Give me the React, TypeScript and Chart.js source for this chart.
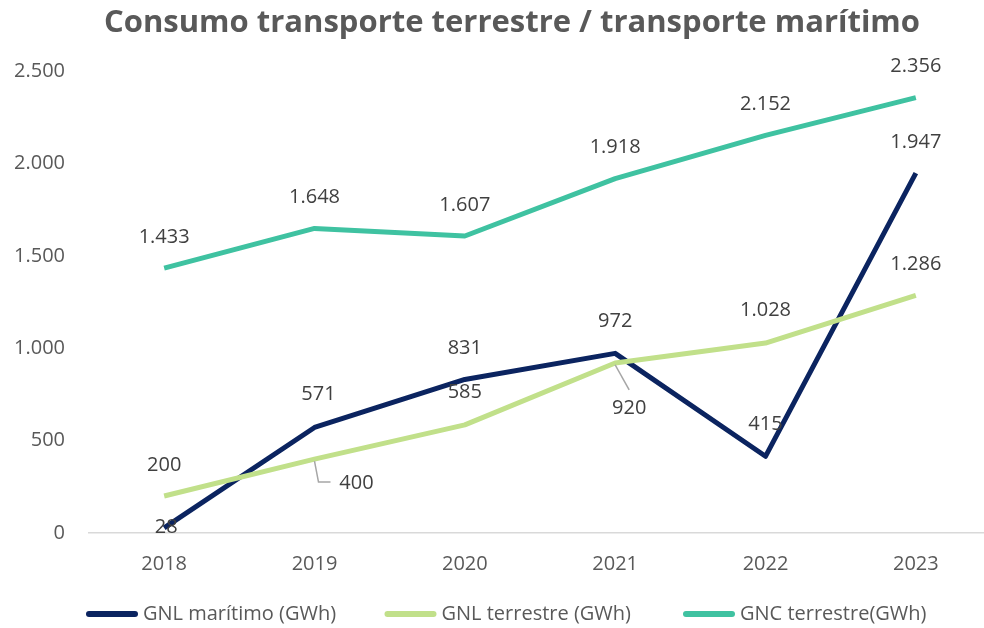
import React, { useEffect, useRef } from "react";
import { Chart, registerables } from "chart.js";

Chart.register(...registerables);

const years = ["2018", "2019", "2020", "2021", "2022", "2023"];
const gnlMaritimo = [28, 571, 831, 972, 415, 1947];
const gnlTerrestre = [200, 400, 585, 920, 1028, 1286];
const gncTerrestre = [1433, 1648, 1607, 1918, 2152, 2356];
const seriesNames = ["GNL marítimo (GWh)", "GNL terrestre (GWh)", "GNC terrestre(GWh)"];
const seriesColors = ["#0B2460", "#C1E08A", "#3FC2A1"];
const titleText = "Consumo transporte terrestre / transporte marítimo";

// label placement (dx, dy from point to label centre) and optional leader lines
const labelOffsets: number[][][] = [
  [[2, -1], [4, -33], [0, -31], [0, -32], [0, -32], [0, -31]],
  [[0, -31], [42, 24], [0, -33], [14, 45], [0, -33], [0, -31]],
  [[0, -31], [0, -31], [0, -31], [0, -31], [0, -31], [0, -31]],
];
const leaders: Record<string, number[][]> = {
  "1-1": [[0, 2], [4, 23], [16, 23]],
  "1-3": [[0, 2], [14, 27]],
};

const FONT = "'Open Sans', sans-serif";
const fmt = (v: number) => String(v).replace(/\B(?=(\d{3})+(?!\d))/g, ".");

const labelPlugin = {
  id: "valueLabels",
  afterDatasetsDraw(chart: any) {
    const ctx = chart.ctx;
    ctx.save();
    chart.data.datasets.forEach((ds: any, di: number) => {
      const meta = chart.getDatasetMeta(di);
      meta.data.forEach((pt: any, i: number) => {
        const lead = leaders[di + "-" + i];
        if (lead) {
          ctx.strokeStyle = "#A6A6A6";
          ctx.lineWidth = 1.5;
          ctx.beginPath();
          lead.forEach((p, k) => {
            if (k === 0) ctx.moveTo(pt.x + p[0], pt.y + p[1]);
            else ctx.lineTo(pt.x + p[0], pt.y + p[1]);
          });
          ctx.stroke();
        }
      });
    });
    ctx.font = "20px " + FONT;
    ctx.fillStyle = "#404040";
    ctx.textAlign = "center";
    ctx.textBaseline = "middle";
    chart.data.datasets.forEach((ds: any, di: number) => {
      const meta = chart.getDatasetMeta(di);
      meta.data.forEach((pt: any, i: number) => {
        const off = labelOffsets[di][i];
        ctx.fillText(fmt(ds.data[i]), pt.x + off[0], pt.y + off[1]);
      });
    });
    ctx.restore();
  },
};

const legendPlugin = {
  id: "customLegend",
  afterDraw(chart: any) {
    const ctx = chart.ctx;
    ctx.save();
    // title
    ctx.font = "bold 31px " + FONT;
    ctx.fillStyle = "#595959";
    ctx.textAlign = "center";
    ctx.textBaseline = "alphabetic";
    ctx.fillText(titleText, 512, 32);
    // legend
    ctx.font = "20px " + FONT;
    const lineLen = 52;
    const gapText = 5;
    const slot = 298.5;
    const startX = 86;
    const y = 614;
    chart.data.datasets.forEach((ds: any, i: number) => {
      const x = startX + i * slot;
      ctx.strokeStyle = ds.borderColor;
      ctx.lineWidth = 6;
      ctx.lineCap = "round";
      ctx.beginPath();
      ctx.moveTo(x + 3, y);
      ctx.lineTo(x + lineLen - 3, y);
      ctx.stroke();
      ctx.fillStyle = "#595959";
      ctx.textAlign = "left";
      ctx.textBaseline = "middle";
      ctx.fillText(ds.label, x + lineLen + gapText, y);
    });
    ctx.restore();
  },
};

export default function App() {
  const ref = useRef<HTMLCanvasElement | null>(null);
  useEffect(() => {
    if (!ref.current) return;
    const values = [gnlMaritimo, gnlTerrestre, gncTerrestre];
    const orders = [3, 2, 1];
    const chart = new Chart(ref.current, {
      type: "line",
      data: {
        labels: years,
        datasets: values.map((d, i) => ({
          label: seriesNames[i],
          data: d,
          borderColor: seriesColors[i],
          backgroundColor: seriesColors[i],
          borderWidth: 5,
          pointRadius: 0,
          tension: 0,
          borderJoinStyle: "round" as const,
          order: orders[i],
        })),
      },
      options: {
        responsive: false,
        animation: false,
        events: [],
        layout: { padding: { left: 0, right: 1, top: 71, bottom: 45 } },
        plugins: {
          legend: { display: false },
          tooltip: { enabled: false },
          title: { display: false },
        },
        scales: {
          x: {
            offset: true,
            grid: { display: false, drawTicks: false },
            border: { display: true, color: "#D9D9D9", width: 1.5 },
            ticks: { color: "#595959", font: { family: FONT, size: 20 }, padding: 19 },
            afterFit: (s: any) => { s.height = 50; },
          },
          y: {
            min: 0,
            max: 2500,
            grid: { display: false, drawTicks: false },
            border: { display: false },
            ticks: {
              stepSize: 500,
              color: "#595959",
              font: { family: FONT, size: 20 },
              padding: 24,
              callback: (v: any) => fmt(Number(v)),
            },
            afterFit: (s: any) => { s.width = 89; },
          },
        },
      },
      plugins: [labelPlugin, legendPlugin],
    });
    return () => chart.destroy();
  }, []);
  return (
    <div style={{ position: "fixed", left: 0, top: 0, width: 984, height: 628, overflow: "hidden", background: "#fff" }}>
      <canvas ref={ref} width={992} height={628} style={{ display: "block" }} />
    </div>
  );
}
